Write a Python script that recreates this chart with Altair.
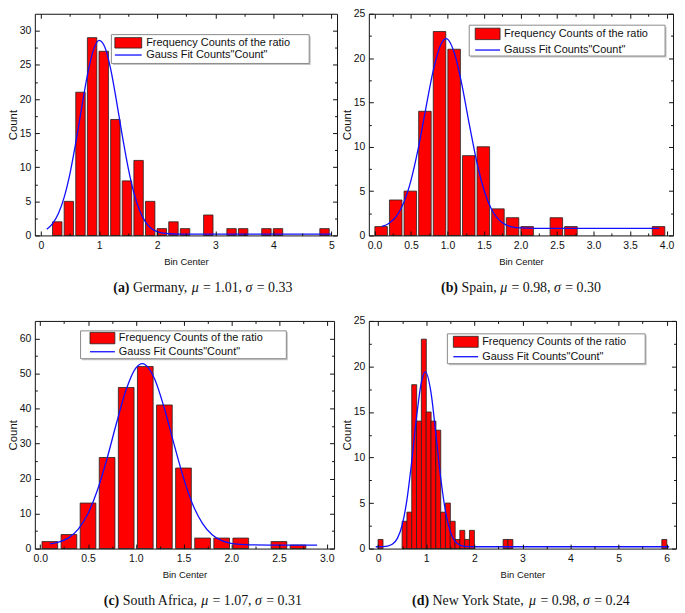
import altair as alt
import pandas as pd

# ---------------- data ----------------
# (a) Germany
de_center = [0.28, 0.48, 0.68, 0.88, 1.08, 1.28, 1.48, 1.68, 1.88, 2.08, 2.28, 2.48, 2.88, 3.28, 3.48, 3.88, 4.08, 4.88]
de_count = [2, 5, 21, 29, 27, 17, 8, 11, 5, 1, 2, 1, 3, 1, 1, 1, 1, 1]
de_fit_x = [0.1, 0.2, 0.3, 0.4, 0.5, 0.6, 0.7, 0.8, 0.9, 1.0, 1.1, 1.2, 1.3, 1.4, 1.5, 1.6, 1.7, 1.8, 1.9, 2.0, 2.1, 2.2, 2.4, 3.0, 4.0, 5.0]
de_fit_y = [0.91, 1.73, 3.21, 5.62, 9.11, 13.63, 18.7, 23.55, 27.1, 28.6, 27.6, 24.4, 19.7, 14.6, 9.95, 6.22, 3.61, 1.96, 1.03, 0.56, 0.34, 0.25, 0.2, 0.2, 0.2, 0.2]
de_xmaj = [0, 1, 2, 3, 4, 5]
de_xmin = [0.5, 1.5, 2.5, 3.5, 4.5]
de_ymaj = [0, 5, 10, 15, 20, 25, 30]
de_ymin = [2.5, 7.5, 12.5, 17.5, 22.5, 27.5]

# (b) Spain
es_center = [0.09, 0.29, 0.49, 0.69, 0.89, 1.09, 1.29, 1.49, 1.69, 1.89, 2.09, 2.49, 2.69, 3.89]
es_count = [1, 4, 5, 14, 23, 21, 9, 10, 3, 2, 1, 2, 1, 1]
es_fit_x = [0.1, 0.2, 0.3, 0.4, 0.5, 0.6, 0.7, 0.8, 0.9, 0.98, 1.1, 1.2, 1.3, 1.4, 1.5, 1.6, 1.7, 1.8, 1.9, 2.0, 2.2, 3.0, 3.9]
es_fit_y = [1.01, 1.38, 2.17, 3.69, 6.24, 9.87, 14.23, 18.45, 21.4, 22.2, 20.4, 16.85, 12.44, 8.3, 5.09, 2.98, 1.78, 1.19, 0.94, 0.85, 0.8, 0.8, 0.8]
es_xmaj = [0.0, 0.5, 1.0, 1.5, 2.0, 2.5, 3.0, 3.5, 4.0]
es_xmin = [0.25, 0.75, 1.25, 1.75, 2.25, 2.75, 3.25, 3.75]
es_ymaj = [0, 5, 10, 15, 20, 25]
es_ymin = [2.5, 7.5, 12.5, 17.5, 22.5]

# (c) South Africa
sa_center = [0.1, 0.3, 0.5, 0.7, 0.9, 1.1, 1.3, 1.5, 1.7, 1.9, 2.1, 2.5, 2.7]
sa_count = [2, 4, 13, 26, 46, 52, 41, 23, 3, 3, 3, 2, 1]
sa_fit_x = [0.1, 0.2, 0.3, 0.4, 0.5, 0.6, 0.7, 0.8, 0.9, 1.0, 1.07, 1.1, 1.2, 1.3, 1.4, 1.5, 1.6, 1.7, 1.8, 1.9, 2.0, 2.1, 2.2, 2.4, 2.9]
sa_fit_y = [1.33, 1.89, 3.13, 5.64, 10.03, 16.8, 25.8, 36.0, 45.4, 51.5, 52.8, 52.5, 48.3, 40.0, 29.9, 20.2, 12.4, 7.13, 3.95, 2.27, 1.5, 1.17, 1.05, 1.0, 1.0]
sa_xmaj = [0.0, 0.5, 1.0, 1.5, 2.0, 2.5, 3.0]
sa_xmin = [0.25, 0.75, 1.25, 1.75, 2.25, 2.75]
sa_ymaj = [0, 10, 20, 30, 40, 50, 60]
sa_ymin = [5, 15, 25, 35, 45, 55]

# (d) New York State
ny_center = [0.05, 0.55, 0.65, 0.75, 0.85, 0.95, 1.05, 1.15, 1.25, 1.35, 1.45, 1.55, 1.65, 1.75, 1.85, 1.95, 2.65, 2.75, 5.95]
ny_count = [1, 3, 4, 18, 14, 23, 15, 14, 13, 4, 5, 3, 1, 2, 1, 2, 1, 1, 1]
ny_fit_x = [-0.05, 0.1, 0.2, 0.3, 0.4, 0.5, 0.6, 0.7, 0.8, 0.9, 0.98, 1.1, 1.2, 1.3, 1.4, 1.5, 1.6, 1.7, 1.8, 2.0, 3.0, 6.05]
ny_fit_y = [0.2, 0.22, 0.28, 0.49, 1.12, 2.59, 5.4, 9.65, 14.5, 18.3, 19.4, 17.1, 12.6, 7.8, 4.1, 1.86, 0.79, 0.38, 0.25, 0.2, 0.2, 0.2]
ny_xmaj = [0, 1, 2, 3, 4, 5, 6]
ny_xmin = [0.5, 1.5, 2.5, 3.5, 4.5, 5.5]
ny_ymaj = [0, 5, 10, 15, 20, 25]
ny_ymin = [2.5, 7.5, 12.5, 17.5, 22.5]

legend_bar = "Frequency Counts of the ratio"
legend_fit = 'Gauss Fit Counts"Count"'

# ---------------- styling ----------------
SANS = "Liberation Sans"
SERIF = "Liberation Serif"
RED = "#ff0000"
BLUE = "#1010ff"
INK = "#111111"

# approximate Times advance widths (per 1000 em) for caption layout
TW = {' ': 250, '(': 333, ')': 333, ',': 250, '.': 250, '=': 564, 'G': 722, 'e': 444, 'r': 333,
      'm': 778, 'a': 444, 'n': 500, 'y': 500, 'S': 556, 'p': 500, 'i': 278, 'o': 500, 'u': 500,
      't': 278, 'h': 500, 'A': 722, 'f': 333, 'c': 444, 'N': 722, 'w': 722, 'Y': 722, 'k': 500,
      's': 389, 'μ': 560, 'σ': 550}
TWB = {'(': 333, ')': 333, 'a': 500, 'b': 556, 'c': 444, 'd': 556}


def tw(s, size, bold=False):
    tab = TWB if bold else TW
    return sum(tab.get(ch, TW.get(ch, 500)) for ch in s) * size / 1000.0


one = alt.Data(values=[{"k": 1}])


def fixed_text(txt, x, y, size, font, weight="normal", style="normal", align="left"):
    return alt.Chart(one).mark_text(text=txt, align=align, baseline="middle", font=font,
                                    fontSize=size, fontWeight=weight, fontStyle=style,
                                    color=INK).encode(x=alt.value(x), y=alt.value(y))


def panel(p):
    w, h = p["w"], p["h"]
    xs = alt.Scale(domain=p["xdom"], nice=False, zero=False)
    ys = alt.Scale(domain=p["ydom"], nice=False, zero=False)
    bars_df = pd.DataFrame({"center": p["centers"], "count": p["counts"]})
    fit_df = pd.DataFrame({"fx": p["fit_x"], "fy": p["fit_y"]})
    barpx = p["barw"] * w / (p["xdom"][1] - p["xdom"][0])

    x_lab = alt.Axis(orient="bottom", values=p["xmaj"], format=p["xfmt"], ticks=False, tickSize=0,
                     domain=False, grid=False, labelFont=SANS, labelFontSize=10.5, labelColor=INK,
                     labelPadding=5, title="Bin Center", titleFont=SANS, titleFontSize=9.5,
                     titleFontWeight="normal", titleColor=INK, titlePadding=6)
    y_lab = alt.Axis(orient="left", values=p["ymaj"], format="d", ticks=False, tickSize=0,
                     domain=False, grid=False, labelFont=SANS, labelFontSize=10.5, labelColor=INK,
                     labelPadding=4, title="Count", titleFont=SANS, titleFontSize=11.5,
                     titleFontWeight="normal", titleColor=INK, titlePadding=1)

    bars = alt.Chart(bars_df).mark_bar(size=barpx, fill=RED, stroke="#222222", strokeWidth=0.8).encode(
        x=alt.X("center:Q", scale=xs, axis=x_lab),
        y=alt.Y("count:Q", scale=ys, axis=y_lab),
    )
    fit = alt.Chart(fit_df).mark_line(color=BLUE, strokeWidth=1.3, interpolate="monotone").encode(
        x=alt.X("fx:Q", scale=xs, axis=None),
        y=alt.Y("fy:Q", scale=ys, axis=None),
    )

    def tick_axis(orient, vals, size, offset, dom):
        return alt.Axis(orient=orient, values=vals, labels=False, ticks=True, tickSize=size,
                        tickColor=INK, tickWidth=1, domain=dom, domainColor=INK, domainWidth=1,
                        grid=False, title=None, offset=offset, zindex=1)

    def tick_layer(xo, yo, xv, yv, size, dom):
        return alt.Chart(bars_df).mark_point(opacity=0).encode(
            x=alt.X("center:Q", scale=xs, axis=tick_axis(xo, xv, size, -h, dom)),
            y=alt.Y("count:Q", scale=ys, axis=tick_axis(yo, yv, size, -w, dom)),
        )

    t1 = tick_layer("top", "right", p["xmaj"], p["ymaj"], 4.5, True)
    t2 = tick_layer("bottom", "left", p["xmaj"], p["ymaj"], 4.5, True)
    t3 = tick_layer("top", "right", p["xmin"], p["ymin"], 2.5, False)
    t4 = tick_layer("bottom", "left", p["xmin"], p["ymin"], 2.5, False)

    L, R, T, B = p["box"]
    sx0, sx1, sy0, sy1 = p["swatch"]
    ly, tx, ty1, ty2 = p["lline"]
    shadow = alt.Chart(one).mark_rect(fill="#c4c4c4").encode(
        x=alt.value(L + 1.5), x2=alt.value(R + 1.5), y=alt.value(T + 1.5), y2=alt.value(B + 1.5))
    box = alt.Chart(one).mark_rect(fill="white", stroke="#8a8a8a", strokeWidth=1).encode(
        x=alt.value(L), x2=alt.value(R), y=alt.value(T), y2=alt.value(B))
    swatch = alt.Chart(one).mark_rect(fill=RED, stroke="#222222", strokeWidth=0.8).encode(
        x=alt.value(sx0), x2=alt.value(sx1), y=alt.value(sy0), y2=alt.value(sy1))
    lline = alt.Chart(one).mark_rule(color=BLUE, strokeWidth=1.3).encode(
        x=alt.value(sx0), x2=alt.value(sx1), y=alt.value(ly))
    lt1 = fixed_text(legend_bar, tx, ty1, 11, SANS)
    lt2 = fixed_text(legend_fit, tx, ty2, 11, SANS)

    # caption with mixed bold / italic pieces, centred on cap_cx
    size = 14
    segs = p["caption"]
    total = sum(tw(s, size, st == "b") for s, st in segs)
    x = p["cap_cx"] - total / 2
    cap_layers = []
    cy = h + p["cap_dy"]
    for s, st in segs:
        lead = len(s) - len(s.lstrip(" "))
        xs0 = x + tw(" " * lead, size)
        core = s.strip(" ")
        if st == "b":
            cap_layers.append(fixed_text(core, xs0, cy, size, SERIF, weight="bold"))
        elif st == "i":
            cap_layers.append(fixed_text(core, xs0, cy, size, SERIF, style="italic"))
        else:
            cap_layers.append(fixed_text(core, xs0, cy, size, SERIF))
        x += tw(s, size, st == "b")

    layers = [bars, fit, t1, t2, t3, t4, shadow, box, swatch, lline, lt1, lt2] + cap_layers
    return alt.layer(*layers).resolve_axis(x="independent", y="independent").properties(width=w, height=h)


pa = panel(dict(w=304, h=223, xdom=[-0.02, 5.01], ydom=[0, 32.5], centers=de_center, counts=de_count,
                fit_x=de_fit_x, fit_y=de_fit_y, xmaj=de_xmaj, xmin=de_xmin, ymaj=de_ymaj, ymin=de_ymin,
                xfmt="d", barw=0.157,
                box=(77, 276, 21, 50), swatch=(80.5, 107.5, 24, 34.5), lline=(41.5, 112, 29.5, 41.5),
                caption=[("(a)", "b"), (" Germany, ", "n"), ("μ", "i"), (" = 1.01, ", "n"), ("σ", "i"), (" = 0.33", "n")],
                cap_cx=169, cap_dy=53))
pb = panel(dict(w=306, h=223, xdom=[-0.01, 4.02], ydom=[0, 25], centers=es_center, counts=es_count,
                fit_x=es_fit_x, fit_y=es_fit_y, xmaj=es_xmaj, xmin=es_xmin, ymaj=es_ymaj, ymin=es_ymin,
                xfmt=".1f", barw=0.166,
                box=(101, 298, 11.5, 42.5), swatch=(107, 132, 14.5, 26), lline=(36.5, 136, 20.3, 36.3),
                caption=[("(b)", "b"), (" Spain, ", "n"), ("μ", "i"), (" = 0.98, ", "n"), ("σ", "i"), (" = 0.30", "n")],
                cap_cx=153, cap_dy=53))
pc = panel(dict(w=301, h=229, xdom=[-0.005, 3.025], ydom=[0, 65], centers=sa_center, counts=sa_count,
                fit_x=sa_fit_x, fit_y=sa_fit_y, xmaj=sa_xmaj, xmin=sa_xmin, ymaj=sa_ymaj, ymin=sa_ymin,
                xfmt=".1f", barw=0.159,
                box=(46, 253, 10, 38), swatch=(55.5, 80.5, 11.5, 23), lline=(31, 84.5, 17.3, 31),
                caption=[("(c)", "b"), (" South Africa, ", "n"), ("μ", "i"), (" = 1.07, ", "n"), ("σ", "i"), (" = 0.31", "n")],
                cap_cx=169, cap_dy=53))
pd_ = panel(dict(w=309, h=229, xdom=[-0.09, 6.09], ydom=[0, 25], centers=ny_center, counts=ny_count,
                 fit_x=ny_fit_x, fit_y=ny_fit_y, xmaj=ny_xmaj, xmin=ny_xmin, ymaj=ny_ymaj, ymin=ny_ymin,
                 xfmt="d", barw=0.1,
                 box=(79, 278, 13, 43), swatch=(85, 110, 15.5, 26.5), lline=(36, 114, 21.5, 36),
                 caption=[("(d)", "b"), (" New York State, ", "n"), ("μ", "i"), (" = 0.98, ", "n"), ("σ", "i"), (" = 0.24", "n")],
                 cap_cx=153, cap_dy=53))

chart = alt.concat(pa, pb, pc, pd_, columns=2, spacing={"row": 86, "column": 32}, bounds="flush").properties(
    padding={"left": -1, "top": -1, "right": 0, "bottom": 0}
).configure_view(strokeOpacity=0)

chart.save("out.html", embed_options={"renderer": "svg", "actions": False})
